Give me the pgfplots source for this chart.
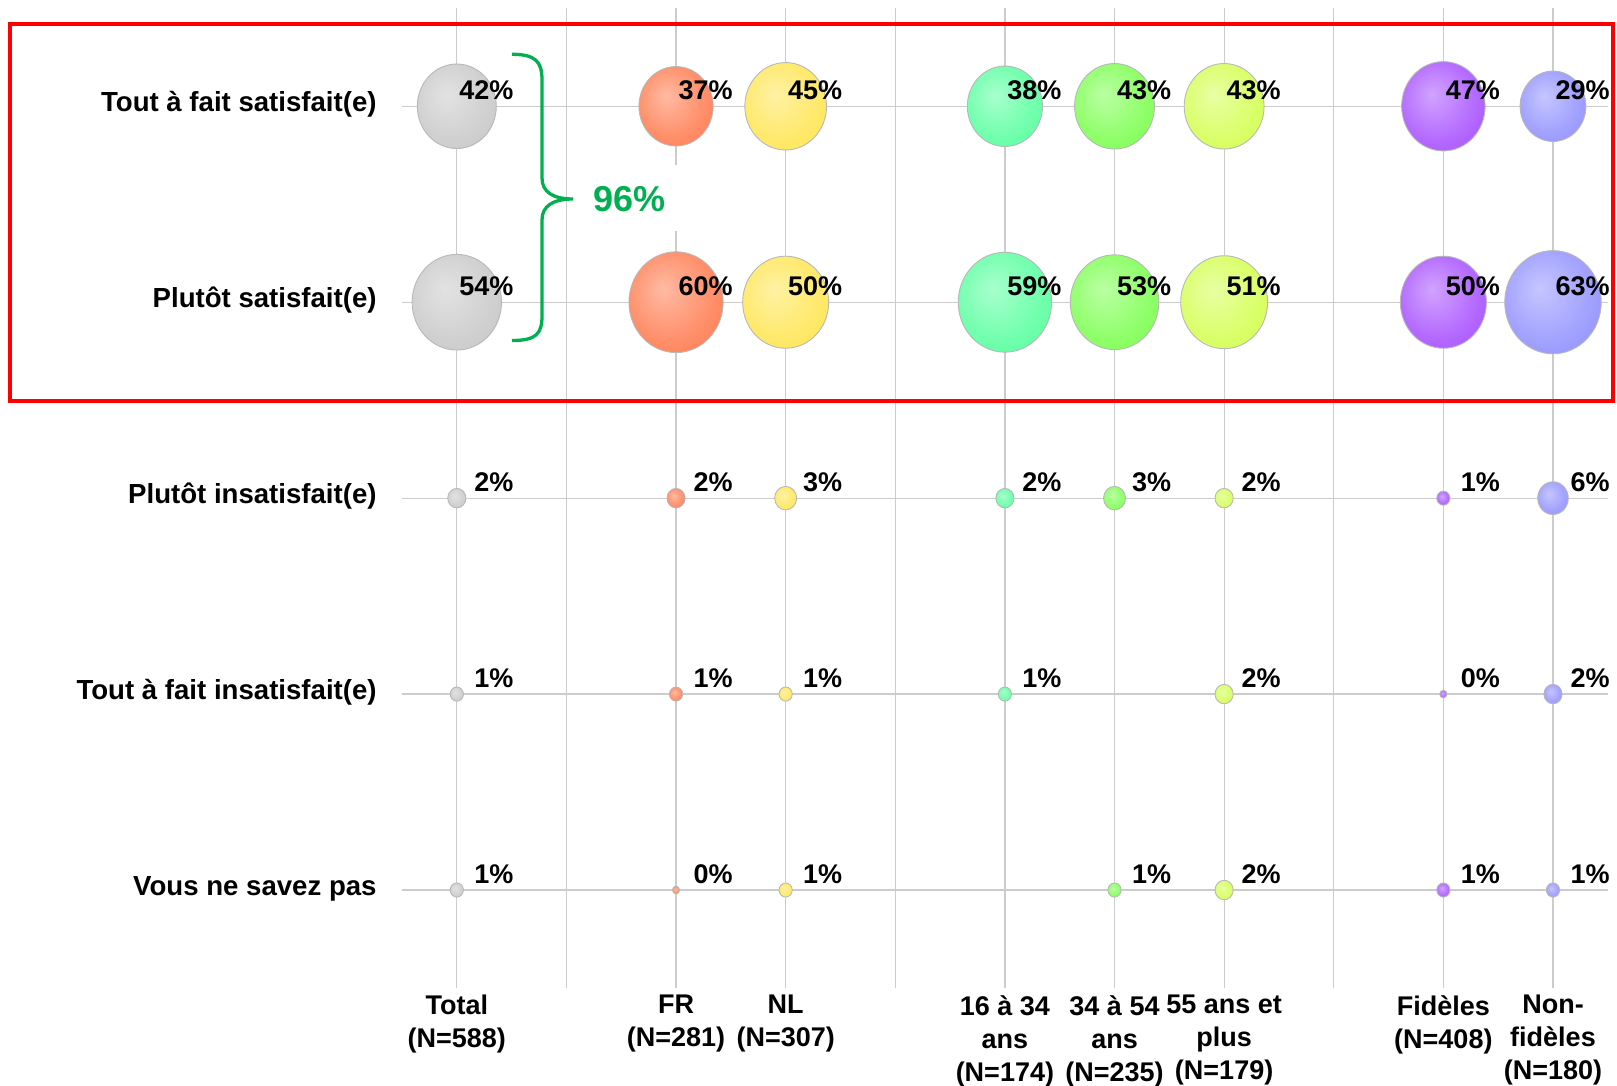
\documentclass[border=0pt]{standalone}
\usepackage{pgfplots}
\pgfplotsset{compat=1.18}
\usepackage{pgfplotstable}
\usepackage{fontspec}
\setmainfont{Liberation Sans}

% series colours
\definecolor{cTot}{HTML}{BFBFBF}
\definecolor{cFR}{HTML}{FF6633}
\definecolor{cNL}{HTML}{FFE135}
\definecolor{cYng}{HTML}{3DFF8F}
\definecolor{cMid}{HTML}{66FF33}
\definecolor{cOld}{HTML}{CCFF33}
\definecolor{cFid}{HTML}{9933FF}
\definecolor{cNF}{HTML}{7F7FFF}
\definecolor{braceGreen}{HTML}{00B050}

% bubble radius (pt) from the value in percent: area proportional to the value
\newcommand\bubradius{\pgfmathsetlengthmacro\bubr{max(3*sqrt(\bval)+0.3,1.8)}}

% a shaded bubble marker for each colour
\newcommand\declbubble[2]{%
  \pgfdeclareradialshading{sh#1}{\pgfpoint{-7bp}{7bp}}{%
    color(0bp)=(white!55!#2); color(22bp)=(white!28!#2); color(50bp)=(#2)}%
  \pgfdeclareplotmark{bub#1}{%
    \bubradius
    \pgfpathellipse{\pgfpointorigin}{\pgfqpoint{\bubr}{0pt}}{\pgfqpoint{0pt}{1.07\dimexpr\bubr\relax}}%
    \pgfshadepath{sh#1}{0}%
    \pgfusepathqstroke}%
}
\declbubble{Tot}{cTot}
\declbubble{FR}{cFR}
\declbubble{NL}{cNL}
\declbubble{Yng}{cYng}
\declbubble{Mid}{cMid}
\declbubble{Old}{cOld}
\declbubble{Fid}{cFid}
\declbubble{NF}{cNF}

\newcommand\lblfont{\fontsize{13.5}{16.5}\selectfont\bfseries}
\newcommand\rowfont{\fontsize{13.8}{16}\selectfont\bfseries}

% rows: 5 = Tout a fait satisfait ... 1 = Vous ne savez pas
\pgfplotstableread{
x y v
0 5 42
0 4 54
0 3 2
0 2 1
0 1 1
}\tabTot
\pgfplotstableread{
x y v
2 5 37
2 4 60
2 3 2
2 2 1
2 1 0
}\tabFR
\pgfplotstableread{
x y v
3 5 45
3 4 50
3 3 3
3 2 1
3 1 1
}\tabNL
\pgfplotstableread{
x y v
5 5 38
5 4 59
5 3 2
5 2 1
}\tabYng
\pgfplotstableread{
x y v
6 5 43
6 4 53
6 3 3
6 1 1
}\tabMid
\pgfplotstableread{
x y v
7 5 43
7 4 51
7 3 2
7 2 2
7 1 2
}\tabOld
\pgfplotstableread{
x y v
9 5 47
9 4 50
9 3 1
9 2 0
9 1 1
}\tabFid
\pgfplotstableread{
x y v
10 5 29
10 4 63
10 3 6
10 2 2
10 1 1
}\tabNF

\pgfplotsset{
  bubble/.style={
    only marks, mark=#1,
    point meta=\thisrow{v},
    visualization depends on={\thisrow{v} \as \bval},
    mark options={draw=black!28, line width=0.45pt},
    nodes near coords={\pgfmathprintnumber{\pgfplotspointmeta}\%},
    every node near coord/.append style={anchor=base east, inner sep=0pt,
      xshift=28.5pt, yshift=3.5pt, font=\lblfont, text=black},
  }
}

\begin{document}
\begin{tikzpicture}
\path[use as bounding box] (0,0) rectangle (808.5pt,-543pt);
\begin{axis}[
  at={(201pt,-4.15pt)}, anchor=north west,
  scale only axis, width=602.9pt, height=489.85pt,
  xmin=-0.5, xmax=10.5, ymin=0.5, ymax=5.5,
  clip=false,
  axis line style={draw=none},
  major tick length=0pt, minor tick length=0pt,
  tick style={draw=none},
  xtick={0,2,3,5,6,7,9,10},
  minor xtick={1,4,8},
  ytick={1,2,3,4,5},
  grid=both,
  major grid style={draw=black!20, line width=0.6pt},
  minor grid style={draw=black!20, line width=0.6pt},
  xticklabels={{Total\\(N=588)},{FR\\(N=281)},{NL\\(N=307)},
    {16 à 34\\ans\\(N=174)},{34 à 54\\ans\\(N=235)},{55 ans et\\plus\\(N=179)},
    {Fidèles\\(N=408)},{Non-\\fidèles\\(N=180)}},
  yticklabels={Vous ne savez pas,Tout à fait insatisfait(e),Plutôt insatisfait(e),
    Plutôt satisfait(e),Tout à fait satisfait(e)},
  xticklabel style={align=center, anchor=north, inner sep=0pt, yshift=-3.5pt, font=\lblfont},
  yticklabel style={anchor=base east, inner sep=0pt, xshift=-12.5pt, yshift=-2.5pt, font=\rowfont},
  /pgf/number format/assume math mode=true,
]
\addplot[bubble=bubTot] table {\tabTot};
\addplot[bubble=bubFR]  table {\tabFR};
\addplot[bubble=bubNL]  table {\tabNL};
\addplot[bubble=bubYng] table {\tabYng};
\addplot[bubble=bubMid] table {\tabMid};
\addplot[bubble=bubOld] table {\tabOld};
\addplot[bubble=bubFid] table {\tabFid};
\addplot[bubble=bubNF]  table {\tabNF};
\end{axis}

% brace grouping the two satisfied rows, with their total
\begin{scope}[x=0.5pt,y=-0.5pt]
  \fill[white] (571,165) rectangle (745,231);
  \draw[braceGreen, line width=1.65pt]
    (512,54.3) .. controls (536,54.3) and (542,62) .. (542,80)
    -- (542,178) .. controls (542,192) and (553,199) .. (573,199)
    .. controls (553,199) and (542,206) .. (542,220)
    -- (542,316) .. controls (542,334) and (536,340.5) .. (512,340.5);
  \node[anchor=base west, inner sep=0pt, text=braceGreen,
        font=\fontsize{18}{20}\selectfont\bfseries] at (593,211.7) {96\%};
  \draw[red, line width=2.2pt] (10.2,23.8) rectangle (1613,401);
\end{scope}
\end{tikzpicture}
\end{document}
